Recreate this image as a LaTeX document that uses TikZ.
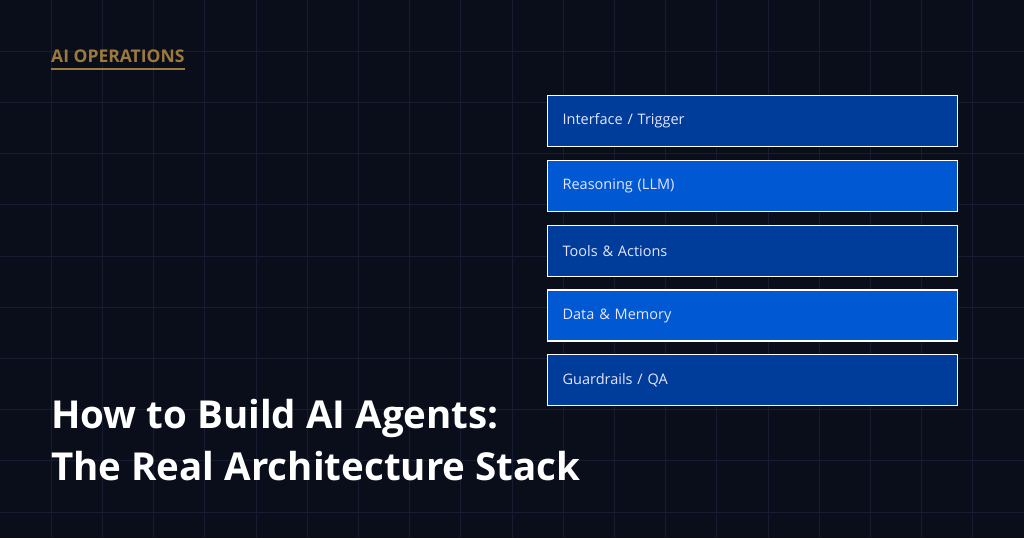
\documentclass[tikz,border=0pt]{standalone}
\usepackage{fontspec}
\setmainfont{Open Sans}
\usetikzlibrary{positioning}
\definecolor{bgnavy}{HTML}{0A0D1A}
\definecolor{gridline}{HTML}{171C30}
\definecolor{gold}{HTML}{9C7A3C}
\definecolor{layerdark}{HTML}{003C9A}
\definecolor{layerlight}{HTML}{0058D2}
\tikzset{
  layer/.style={rectangle,draw=white,line width=1.2pt,minimum width=408pt,minimum height=51pt,
    text width=380pt,align=left,inner xsep=15pt,text=white!90!blue,font=\fontsize{14.5}{16}\selectfont},
  heading/.style={text=white,font=\bfseries\fontsize{38.5}{52}\selectfont,align=left,inner sep=0pt}
}
\begin{document}
\begin{tikzpicture}[x=1pt,y=-1pt]
\fill[bgnavy] (0,0) rectangle (1024,538);
\useasboundingbox (0,0) rectangle (1024,538);
% grid
\foreach \gx in {1,...,19} \draw[gridline,line width=1pt] (\gx*51.2,0) -- (\gx*51.2,538);
\foreach \gy in {1,...,10} \draw[gridline,line width=1pt] (0,\gy*51.2) -- (1024,\gy*51.2);

\node[anchor=west,inner sep=0pt,text=gold,font=\bfseries\fontsize{17.5}{20}\selectfont] (tag) at (51,56) {AI OPERATIONS};
\draw[gold,line width=2pt] (tag.south west) ++(0,6) -- ([yshift=-6pt]tag.south east);

\node[layer,fill=layerdark,anchor=north west] (interface) at (547,95) {Interface / Trigger};
\node[layer,fill=layerlight,below=12.6pt of interface] (reasoning) {Reasoning (LLM)};
\node[layer,fill=layerdark,below=12.6pt of reasoning] (tools) {Tools \& Actions};
\node[layer,fill=layerlight,below=12.6pt of tools] (memory) {Data \& Memory};
\node[layer,fill=layerdark,below=12.6pt of memory] (guard) {Guardrails / QA};

\node[heading,anchor=west] (title) at (51,440) {How to Build AI Agents:\\The Real Architecture Stack};
\end{tikzpicture}
\end{document}
